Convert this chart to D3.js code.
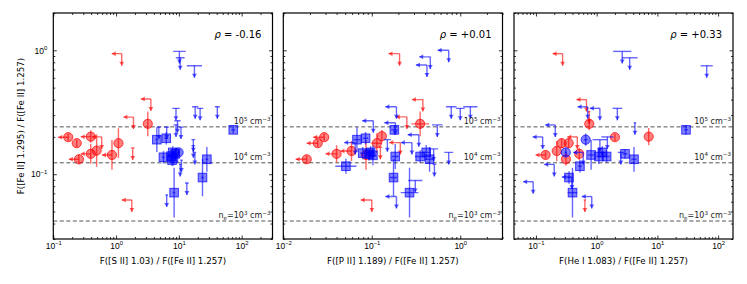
<!DOCTYPE html>
<html lang="en">
<head>
  <meta charset="UTF-8">
  <title>[Fe II] 1.295 / 1.257 ratio</title>
  <style>
    body { margin: 0; background: #fff; }
    svg { display: block; font-family: "DejaVu Sans", sans-serif; }
    .frame { fill: none; stroke: #000; stroke-width: 1.2; }
    .axis path { display: none; }
    .axis line { stroke: #000; stroke-width: 0.8; }
    .axis text { font-size: 8.5px; fill: #000; }
    .dens { stroke: #555; stroke-width: 1; stroke-dasharray: 4,2.5; }
  </style>
</head>
<body>
<div id="chart"></div>
<script src="https://d3js.org/d3.v7.min.js"></script>
<script>
// ---- data ------------------------------------------------------------
// circles: [x, y, xerr(dex), yerr(dex), x upper limit?]
// squares: [x, y, xerr(dex), yerr(dex)]
// limits:  [x, y, xerr(dex), kind]  kind 'L' = x and y upper limit, 'y' = y upper limit
const yDomain = [0.03, 2.0];
const densY = [0.241, 0.1236, 0.0419];
const xLabels = ['F([S II] 1.03) / F([Fe II] 1.257)', 'F([P II] 1.189) / F([Fe II] 1.257)', 'F(He I 1.083) / F([Fe II] 1.257)'];
const rhoVals = ['-0.16', '+0.01', '+0.33'];

// panel 1 : [S II]
const siiRed = [[0.173,0.199,0,0.03,1],[0.236,0.178,0,0.03,0],[0.395,0.201,0,0.05,1],[0.256,0.132,0,0.04,1],
  [0.395,0.146,0,0.08,1],[0.49,0.155,0,0.13,0],[0.86,0.143,0,0.12,1],[1.09,0.178,0,0.12,0],[3.2,0.255,0,0.1,0]];
const siiRedLim = [[1.23,0.94,0,'L'],[3.58,0.405,0,'L'],[1.89,0.289,0,'L'],[1.78,0.062,0,'L'],[0.59,0.20,0,'L'],[1.84,0.163,0.03,'y']];
const siiBlue = [[4.46,0.19,0.02,0.1],[6.3,0.195,0.03,0.05],[5.68,0.137,0.02,0.05],[8.4,0.071,0.02,0.2],
  [7.5,0.14,0.03,0.05],[8.2,0.135,0.03,0.06],[8.8,0.146,0.03,0.05],[8.0,0.15,0.03,0.05],[7.8,0.13,0.02,0.05],
  [23.8,0.094,0.02,0.15],[27.9,0.132,0.02,0.1],[73.5,0.228,0.03,0.03]];
const siiBlueDot = [[9.9,0.15,0.02,0.03,0]];
const siiBlueLim = [[10.2,0.98,0.1,'y'],[10.5,0.87,0.07,'y'],[17.7,0.75,0.12,'y'],[9.0,0.34,0.06,'y'],
  [18.2,0.35,0.05,'y'],[21.8,0.34,0.05,'y'],[41,0.35,0.04,'y'],[9.5,0.27,0.05,'y'],[9.0,0.25,0.04,'y'],
  [6.4,0.24,0.04,'y'],[4.8,0.24,0.03,'y'],[10.8,0.24,0.04,'y'],[6.4,0.068,0.02,'y'],[10.5,0.12,0.02,'y'],
  [13.4,0.085,0.03,'y'],[17,0.19,0.03,'y'],[17,0.17,0.03,'y'],[18,0.15,0.02,'y'],[11,0.13,0.02,'y']];

// panel 2 : [P II]
const piiRed = [[0.0184,0.132,0,0.03,1],[0.0245,0.178,0,0.03,1],[0.029,0.199,0,0.03,1],[0.040,0.146,0,0.07,1],
  [0.059,0.154,0,0.08,1],[0.086,0.143,0,0.12,0],[0.114,0.178,0.06,0.08,0],[0.130,0.203,0,0.05,0],[0.352,0.255,0.1,0.1,0]];
const piiRedLim = [[0.206,0.94,0,'L'],[0.378,0.40,0,'L'],[0.249,0.29,0,'L'],[0.10,0.062,0,'L'],[0.21,0.18,0,'L'],[0.125,0.165,0.02,'y']];
const piiBlue = [[0.051,0.116,0.12,0.06],[0.068,0.19,0.04,0.1],[0.085,0.195,0.03,0.05],[0.079,0.148,0.03,0.05],
  [0.093,0.145,0.04,0.05],[0.103,0.142,0.04,0.08],[0.097,0.15,0.04,0.05],[0.18,0.228,0.04,0.04],
  [0.184,0.139,0.04,0.1],[0.176,0.094,0.04,0.15],[0.267,0.071,0.1,0.2],[0.352,0.139,0.06,0.05],
  [0.412,0.15,0.05,0.06],[0.45,0.132,0.05,0.1]];
const piiBlueDot = [];
const piiBlueLim = [[0.74,1.0,0,'L'],[0.458,0.885,0,'L'],[0.42,0.76,0,'L'],[0.19,0.35,0,'L'],[0.104,0.27,0,'L'],
  [0.185,0.26,0,'L'],[0.34,0.208,0,'L'],[0.19,0.066,0,'L'],[0.065,0.18,0,'L'],[0.284,0.18,0,'L'],
  [0.79,0.35,0.06,'y'],[1.0,0.34,0.05,'y'],[1.3,0.35,0.08,'y'],[0.55,0.25,0.06,'y'],[0.74,0.15,0.05,'y'],
  [0.51,0.12,0.02,'y'],[0.31,0.089,0.08,'y'],[0.15,0.19,0.04,'y'],[0.5,0.16,0.05,'y']];

// panel 3 : He I
const heRed = [[0.144,0.143,0,0.03,1],[0.22,0.154,0,0.08,0],[0.265,0.178,0,0.04,0],[0.346,0.178,0,0.04,0],
  [0.312,0.132,0,0.05,0],[0.516,0.146,0,0.05,0],[0.755,0.255,0,0.05,0],[2.0,0.199,0,0.03,0],[7.2,0.201,0,0.07,0]];
const heRedLim = [[0.275,0.94,0,'L'],[0.68,0.40,0,'L'],[0.48,0.20,0,'L'],[0.75,0.32,0.02,'y'],[0.64,0.062,0.02,'y']];
const heBlue = [[0.35,0.094,0.03,0.05],[0.40,0.071,0.08,0.2],[0.53,0.116,0.03,0.05],[0.81,0.143,0.05,0.12],
  [1.09,0.139,0.04,0.06],[1.24,0.15,0.04,0.05],[1.46,0.139,0.05,0.05],[2.93,0.146,0.04,0.04],
  [4.12,0.132,0.04,0.1],[29.6,0.228,0.03,0.04]];
const heBlueDot = [[0.31,0.15,0.02,0.03,0],[0.66,0.19,0.03,0.05,0]];
const heBlueLim = [[2.64,0.98,0.15,'y'],[3.5,0.87,0.13,'y'],[65,0.75,0.1,'y'],[2.19,0.34,0.08,'y'],
  [4.27,0.26,0.02,'y'],[1.13,0.19,0.12,'y'],[1.5,0.2,0.1,'y'],[2.5,0.15,0.05,'y'],
  [0.71,0.35,0,'L'],[1.13,0.34,0,'L'],[0.208,0.25,0,'L'],[0.129,0.2,0,'L'],[0.09,0.087,0,'L'],
  [0.83,0.066,0,'L'],[0.2,0.12,0,'L'],[0.39,0.095,0,'L'],[0.6,0.15,0,'L']];

// ---- layout ----------------------------------------------------------
const width = 747, height = 284;
const plotTop = 13, plotBottom = 239;
const RED = '#ff0000', BLUE = '#0000ff';
const panels = [
  { x0: 53.3, x1: 272.5, dom: [0.1, 310], lim: 0.16, red: siiRed, redLim: siiRedLim, blue: siiBlue, blueDot: siiBlueDot, blueLim: siiBlueLim },
  { x0: 283.3, x1: 502.5, dom: [0.01, 3.0], lim: 0.125, red: piiRed, redLim: piiRedLim, blue: piiBlue, blueDot: piiBlueDot, blueLim: piiBlueLim },
  { x0: 514, x1: 733, dom: [0.0435, 176], lim: 0.165, red: heRed, redLim: heRedLim, blue: heBlue, blueDot: heBlueDot, blueLim: heBlueLim }
];

const svg = d3.select('#chart').append('svg').attr('width', width).attr('height', height);
const y = d3.scaleLog().domain(yDomain).range([plotBottom, plotTop]);

// text with super/subscripts, parts = [[string, 1 sup | -1 sub | 0]]
function rich(t, parts, fs) {
  let cur = 0;
  parts.forEach(function (p) {
    const off = p[1] === 1 ? -0.42 * fs : p[1] === -1 ? 0.25 * fs : 0;
    const ts = t.append('tspan').attr('font-size', p[1] ? 0.7 * fs : fs).text(p[0]);
    if (off !== cur) ts.attr('dy', off - cur);  // keep the parent's dy on the first run
    cur = off;
  });
}
function powLabel(sel) {
  sel.each(function (d) {
    const e = Math.round(Math.log10(d));
    const t = d3.select(this).text(null);
    rich(t, [['10', 0], [e < 0 ? '\u2212' + (-e) : String(e), 1]], 8.5);
  });
}
function logTicks(dom) {
  const major = [], minor = [];
  for (let e = Math.floor(Math.log10(dom[0])); e <= Math.ceil(Math.log10(dom[1])); e++) {
    for (let m = 1; m < 10; m++) {
      const v = m * Math.pow(10, e);
      if (v < dom[0] * 0.9999 || v > dom[1] * 1.0001) continue;
      (m === 1 ? major : minor).push(v);
    }
  }
  return { major: major, minor: minor };
}

function line(g, x1, y1, x2, y2, c) {
  g.append('line').attr('x1', x1).attr('y1', y1).attr('x2', x2).attr('y2', y2)
    .attr('stroke', c).attr('stroke-opacity', 0.6).attr('stroke-width', 1.4);
}
function arrowLeft(g, px, py, c) {
  g.append('path').attr('d', 'M' + px + ',' + py + 'l4,-2.5v5z').attr('fill', c).attr('fill-opacity', 0.6);
}
function arrowDown(g, px, py, c) {
  g.append('path').attr('d', 'M' + px + ',' + py + 'l-2.5,-4h5z').attr('fill', c).attr('fill-opacity', 0.6);
}

panels.forEach(function (p, i) {
  const x = d3.scaleLog().domain(p.dom).range([p.x0, p.x1]);
  const g = svg.append('g');
  svg.append('clipPath').attr('id', 'clip' + i).append('rect')
    .attr('x', p.x0).attr('y', plotTop).attr('width', p.x1 - p.x0).attr('height', plotBottom - plotTop);
  const marks = g.append('g').attr('clip-path', 'url(#clip' + i + ')');
  const xl = Math.pow(10, -p.lim), yl = 0.8;

  // density reference lines
  marks.selectAll('line.dens').data(densY).join('line').attr('class', 'dens')
    .attr('x1', p.x0).attr('x2', p.x1).attr('y1', function (d) { return y(d); }).attr('y2', function (d) { return y(d); });

  // limits
  function drawLims(data, c) {
    data.forEach(function (d) {
      const px = x(d[0]), py = y(d[1]);
      if (d[3] === 'L') {
        line(marks, px, py, x(d[0] * xl), py, c);
        arrowLeft(marks, x(d[0] * xl), py, c);
      } else if (d[2]) {
        line(marks, x(d[0] * Math.pow(10, -d[2])), py, x(d[0] * Math.pow(10, d[2])), py, c);
      }
      line(marks, px, py, px, y(d[1] * yl), c);
      arrowDown(marks, px, y(d[1] * yl), c);
    });
  }
  // detections with error bars
  function drawPts(data, c, shape) {
    data.forEach(function (d) {
      const px = x(d[0]), py = y(d[1]);
      if (d[2]) line(marks, x(d[0] * Math.pow(10, -d[2])), py, x(d[0] * Math.pow(10, d[2])), py, c);
      if (d[3]) line(marks, px, y(d[1] * Math.pow(10, -d[3])), px, y(d[1] * Math.pow(10, d[3])), c);
      if (d[4]) { line(marks, px, py, x(d[0] * xl), py, c); arrowLeft(marks, x(d[0] * xl), py, c); }
    });
    const sel = marks.selectAll('.m' + shape + c.slice(1)).data(data).enter();
    if (shape === 'o') {
      sel.append('circle').attr('cx', function (d) { return x(d[0]); }).attr('cy', function (d) { return y(d[1]); })
        .attr('r', 4.6).attr('fill', c).attr('fill-opacity', 0.5).attr('stroke', c).attr('stroke-opacity', 0.7);
    } else {
      sel.append('rect').attr('x', function (d) { return x(d[0]) - 4.3; }).attr('y', function (d) { return y(d[1]) - 4.3; })
        .attr('width', 8.6).attr('height', 8.6).attr('fill', c).attr('fill-opacity', 0.5).attr('stroke', c).attr('stroke-opacity', 0.7);
    }
  }
  drawLims(p.redLim, RED);
  drawPts(p.red, RED, 'o');
  drawLims(p.blueLim, BLUE);
  drawPts(p.blue, BLUE, 's');
  drawPts(p.blueDot, BLUE, 'o');

  // axes: ticks inward on all four sides
  const xt = logTicks(p.dom), yt = logTicks(yDomain);
  const bx = g.append('g').attr('class', 'axis').attr('transform', 'translate(0,' + plotBottom + ')')
    .call(d3.axisBottom(x).tickValues(xt.major).tickSize(-3.5).tickPadding(4));
  bx.selectAll('text').call(powLabel);
  g.append('g').attr('class', 'axis').attr('transform', 'translate(0,' + plotBottom + ')')
    .call(d3.axisBottom(x).tickValues(xt.minor).tickSize(-2).tickFormat(''));
  g.append('g').attr('class', 'axis').attr('transform', 'translate(0,' + plotTop + ')')
    .call(d3.axisTop(x).tickValues(xt.major).tickSize(-3.5).tickFormat(''));
  g.append('g').attr('class', 'axis').attr('transform', 'translate(0,' + plotTop + ')')
    .call(d3.axisTop(x).tickValues(xt.minor).tickSize(-2).tickFormat(''));

  const ly = g.append('g').attr('class', 'axis').attr('transform', 'translate(' + p.x0 + ',0)')
    .call(d3.axisLeft(y).tickValues(yt.major).tickSize(-3.5).tickPadding(6));
  if (i === 0) ly.selectAll('text').call(powLabel); else ly.selectAll('text').remove();
  g.append('g').attr('class', 'axis').attr('transform', 'translate(' + p.x0 + ',0)')
    .call(d3.axisLeft(y).tickValues(yt.minor).tickSize(-2).tickFormat(''));
  g.append('g').attr('class', 'axis').attr('transform', 'translate(' + p.x1 + ',0)')
    .call(d3.axisRight(y).tickValues(yt.major).tickSize(-3.5).tickFormat(''));
  g.append('g').attr('class', 'axis').attr('transform', 'translate(' + p.x1 + ',0)')
    .call(d3.axisRight(y).tickValues(yt.minor).tickSize(-2).tickFormat(''));

  g.append('rect').attr('class', 'frame').attr('x', p.x0).attr('y', plotTop)
    .attr('width', p.x1 - p.x0).attr('height', plotBottom - plotTop);

  // density labels
  const dl = [
    [['10', 0], ['5', 1], [' cm', 0], ['\u22123', 1]],
    [['10', 0], ['4', 1], [' cm', 0], ['\u22123', 1]],
    [['n', 0], ['e', -1], ['=10', 0], ['3', 1], [' cm', 0], ['\u22123', 1]]
  ];
  densY.forEach(function (d, k) {
    const t = g.append('text').attr('x', p.x1 - 2).attr('y', y(d) - 3).attr('text-anchor', 'end').attr('fill', '#222');
    rich(t, dl[k], 8);
  });

  // correlation coefficient
  const r = g.append('text').attr('x', p.x1 - 11).attr('y', 38).attr('text-anchor', 'end').attr('font-size', 10);
  r.append('tspan').attr('font-style', 'italic').text('\u03c1');
  r.append('tspan').text(' = ' + rhoVals[i]);

  // x label
  g.append('text').attr('x', (p.x0 + p.x1) / 2).attr('y', 264).attr('text-anchor', 'middle')
    .attr('font-size', 8.7).text(xLabels[i]);
});

svg.append('text').attr('transform', 'translate(24,' + (plotTop + plotBottom) / 2 + ') rotate(-90)')
  .attr('text-anchor', 'middle').attr('font-size', 8.7).text('F([Fe II] 1.295) / F([Fe II] 1.257)');
</script>
</body>
</html>
